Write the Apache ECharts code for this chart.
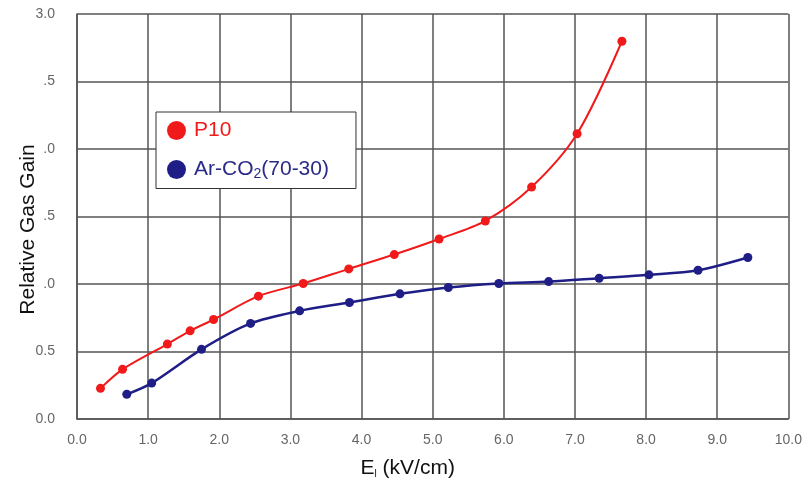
<!DOCTYPE html>
<html>
<head>
<meta charset="utf-8">
<script src="https://cdn.jsdelivr.net/npm/echarts@6/dist/echarts.min.js"></script>
<style>
html,body{margin:0;padding:0;background:#fff;}
#chart{width:805px;height:488px;}
</style>
</head>
<body>
<div id="chart"></div>
<script>
// Data
const p10X = [0.33, 0.64, 1.27, 1.59, 1.92, 2.55, 3.18, 3.82, 4.46, 5.09, 5.74, 6.39, 7.03, 7.66];
const p10Y = [0.227, 0.368, 0.555, 0.653, 0.737, 0.910, 1.004, 1.112, 1.218, 1.333, 1.467, 1.718, 2.113, 2.798];
const arco2X = [0.70, 1.05, 1.75, 2.44, 3.13, 3.83, 4.54, 5.22, 5.93, 6.63, 7.34, 8.04, 8.73, 9.43];
const arco2Y = [0.183, 0.266, 0.516, 0.708, 0.801, 0.863, 0.927, 0.974, 1.004, 1.018, 1.043, 1.068, 1.102, 1.196];
// Tick labels as they appear (partly hidden in the reference)
const yTickValues = [0, 0.5, 1.0, 1.5, 2.0, 2.5, 3.0];
const yTickLabels = ['0.0', '0.5', '.0', '.5', '.0', '.5', '3.0'];
const xTickLabels = ['0.0','1.0','2.0','3.0','4.0','5.0','6.0','7.0','8.0','9.0','10.0'];
const seriesNames = ['P10', 'Ar-CO2(70-30)'];

const RED = '#f01a1a';
const BLUE = '#1e1e86';
const GRID = '#555555';
const FONT = 'Liberation Sans';

function zip(xs, ys) { return xs.map((x, i) => [x, ys[i]]); }

const chart = echarts.init(document.getElementById('chart'));
chart.setOption({
  animation: false,
  backgroundColor: '#fff',
  grid: { left: 77, right: 15, top: 14, bottom: 69, containLabel: false },
  legend: {
    orient: 'vertical',
    left: 156,
    top: 112,
    padding: [8, 27, 7, 11],
    itemGap: 18,
    itemWidth: 19,
    itemHeight: 19,
    icon: 'circle',
    backgroundColor: '#fff',
    borderColor: '#333',
    borderWidth: 1,
    data: seriesNames,
    formatter: function (name) {
      if (name === seriesNames[0]) return '{r|P10}';
      return '{b|Ar-CO}{bs|2}{b|(70-30)}';
    },
    textStyle: {
      fontFamily: FONT,
      fontSize: 21,
      padding: [0, 0, 0, 3],
      rich: {
        r: { color: RED, fontFamily: FONT, fontSize: 21 },
        b: { color: '#2a2a88', fontFamily: FONT, fontSize: 21 },
        bs: { color: '#2a2a88', fontFamily: FONT, fontSize: 14, verticalAlign: 'bottom', padding: [10, 0, 0, 0] }
      }
    }
  },
  xAxis: {
    type: 'value',
    min: 0, max: 10, interval: 1,
    name: 'E{s|l} (kV/cm)',
    nameLocation: 'middle',
    nameGap: 38,
    nameMoveOverlap: false,
    nameTextStyle: {
      fontFamily: FONT, fontSize: 21, color: '#111',
      padding: [0, 50, 0, 0],
      rich: { s: { fontFamily: FONT, fontSize: 10, color: '#111', verticalAlign: 'bottom', padding: [12, 0, 0, 0] } }
    },
    axisLine: { show: true, lineStyle: { color: GRID, width: 1.5 } },
    axisTick: { show: false },
    axisLabel: {
      margin: 14, fontFamily: FONT, fontSize: 14, color: '#666',
      formatter: function (v) { return xTickLabels[Math.round(v)]; }
    },
    splitLine: { show: true, lineStyle: { color: GRID, width: 1.5 } }
  },
  yAxis: {
    type: 'value',
    min: 0, max: 3, interval: 0.5,
    name: 'Relative Gas Gain',
    nameLocation: 'middle',
    nameGap: 38,
    nameMoveOverlap: false,
    nameTextStyle: { fontFamily: FONT, fontSize: 21, color: '#111', padding: [0, 26, 0, 0] },
    axisLine: { show: true, lineStyle: { color: GRID, width: 1.5 } },
    axisTick: { show: false },
    axisLabel: {
      margin: 22, fontFamily: FONT, fontSize: 14, color: '#666',
      formatter: function (v) {
        const i = yTickValues.findIndex(t => Math.abs(t - v) < 1e-6);
        return i >= 0 ? yTickLabels[i] : '';
      }
    },
    splitLine: { show: true, lineStyle: { color: GRID, width: 1.5 } }
  },
  series: [
    {
      name: seriesNames[0],
      type: 'line',
      smooth: 0.3,
      data: zip(p10X, p10Y),
      symbol: 'circle',
      symbolSize: 9,
      itemStyle: { color: RED },
      lineStyle: { color: RED, width: 2 }
    },
    {
      name: seriesNames[1],
      type: 'line',
      smooth: 0.3,
      data: zip(arco2X, arco2Y),
      symbol: 'circle',
      symbolSize: 9,
      itemStyle: { color: BLUE },
      lineStyle: { color: BLUE, width: 2.5 }
    }
  ]
});
</script>
</body>
</html>
